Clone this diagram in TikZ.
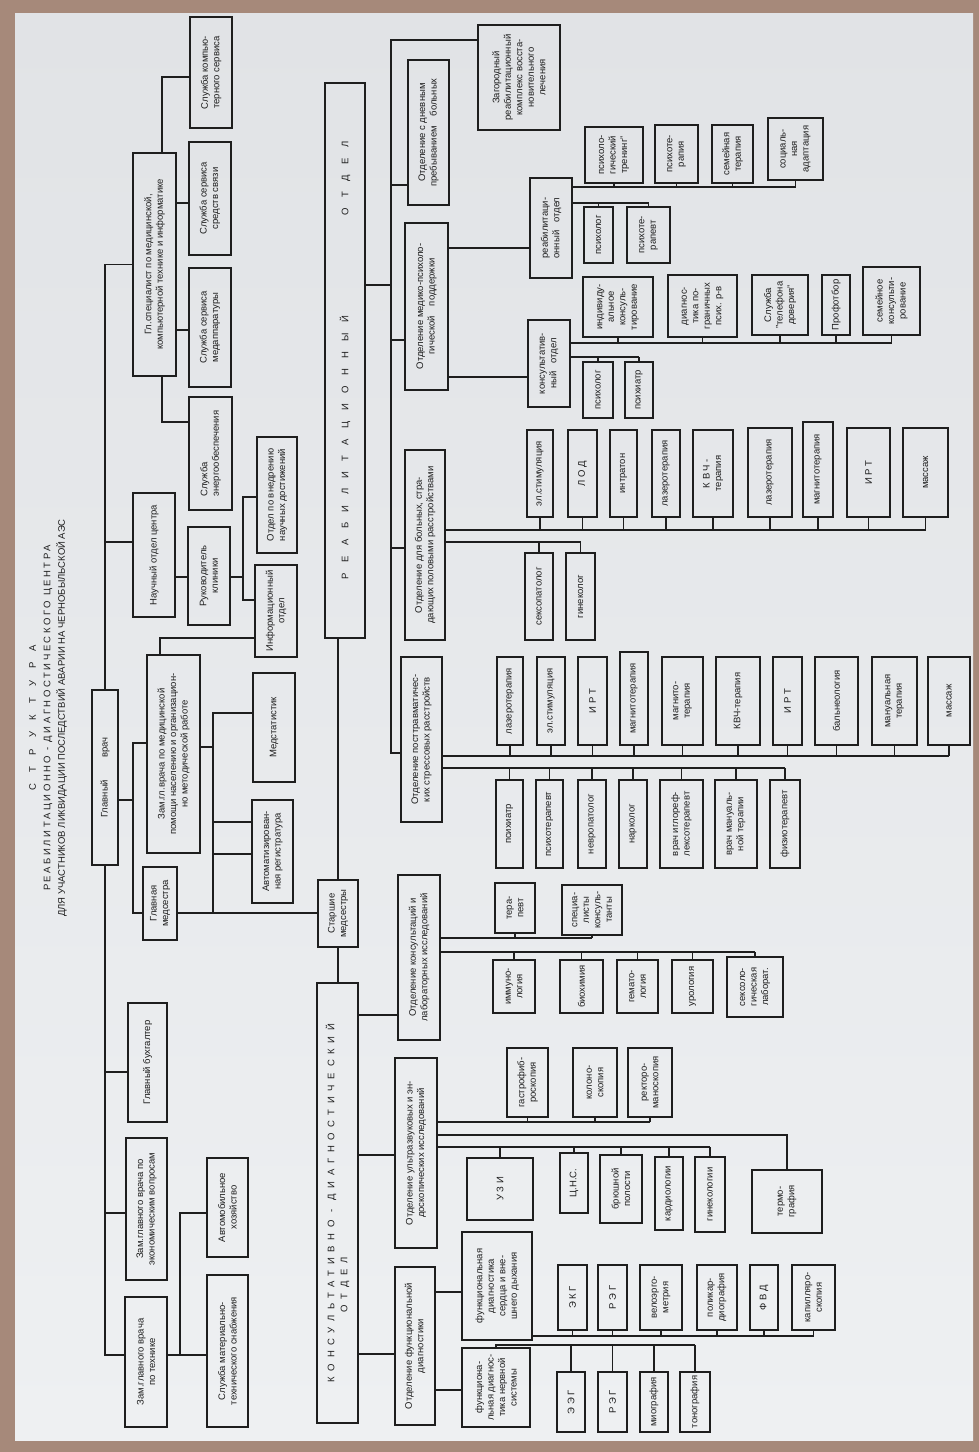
\documentclass[tikz,border=0pt]{standalone}
\usepackage{fontspec}
\setmainfont{Liberation Sans}
\definecolor{frame}{HTML}{A6897A}
\definecolor{pagetop}{HTML}{E1E3E6}
\definecolor{pagebot}{HTML}{EEF0F2}
\definecolor{ink}{HTML}{1E1E1E}

\begin{document}
\begin{tikzpicture}[x=1pt, y=-1pt, line width=1.1pt, color=ink,
block/.style = {rectangle, draw=ink, line width=1.2pt, rotate=90, align=center,
  inner sep=1pt, font=\fontsize{9.5}{11.5}\selectfont},
sz/.style 2 args = {minimum height=#1pt, minimum width=#2pt}]

\useasboundingbox (0,0) rectangle (979,1452);
\fill[frame] (0,0) rectangle (979,1452);
\shade[top color=pagetop, bottom color=pagebot] (15,13) rectangle (973,1440);

% title (page is turned, text runs upwards)
\node[rotate=90, align=center, font=\fontsize{9.5}{14.5}\selectfont] at (48,718) (title)
  {{\addfontfeature{LetterSpace=120}СТРУКТУРА}\\
   {\addfontfeature{LetterSpace=27}РЕАБИЛИТАЦИОННО - ДИАГНОСТИЧЕСКОГО ЦЕНТРА}\\
   ДЛЯ УЧАСТНИКОВ ЛИКВИДАЦИИ ПОСЛЕДСТВИЙ АВАРИИ НА ЧЕРНОБЫЛЬСКОЙ АЭС};

% administration
\node[block, sz={26}{175}] at (105,777.5) (glav) {Главный\hspace{22pt}врач};
\node[block, sz={43}{223}] at (154.5,264.5) (spec) {Гл.специалист по медицинской,\\компьютерной технике и информатике};
\node[block, sz={42}{111}] at (211,72.5) (comp) {Служба компью-\\терного сервиса};
\node[block, sz={42}{113}] at (210,198.5) (svyaz) {Служба сервиса\\средств связи};
\node[block, sz={42}{119}] at (210,327.5) (medapp) {Служба сервиса\\медаппаратуры};
\node[block, sz={43}{113}, align=left] at (210.5,453.5) (energo) {Служба\\энергообеспечения};
\node[block, sz={42}{124}] at (154,555) (nauch) {Научный отдел центра};
\node[block, sz={42}{98}] at (209,576) (ruk) {Руководитель\\клиники};
\node[block, sz={40}{116}] at (277,495) (vnedr) {Отдел по внедрению\\научных достижений};
\node[block, sz={42}{92}] at (276,611) (inform) {Информационный\\отдел};
\node[block, sz={53}{198}] at (173.5,754) (zammed) {Зам.гл.врача по медицинской\\помощи населению и организацион-\\но методической работе};
\node[block, sz={34}{73}] at (160,903.5) (glmed) {Главная\\медсестра};
\node[block, sz={42}{109}] at (274,727.5) (medstat) {Медстатистик};
\node[block, sz={41}{103}] at (272.5,851.5) (avtoreg) {Автоматизирован-\\ная регистратура};
\node[block, sz={40}{67}] at (338,913.5) (starsh) {Старшие\\медсестры};
\node[block, sz={39}{119}] at (147.5,1062.5) (buh) {Главный бухгалтер};
\node[block, sz={41}{142}] at (146.5,1209) (zamek) {Зам.главного врача по\\экономическим вопросам};
\node[block, sz={42}{130}] at (146,1362) (tekh) {Зам.главного врача\\по технике};
\node[block, sz={41}{99}] at (227.5,1207.5) (avto) {Автомобильное\\хозяйство};
\node[block, sz={41}{152}] at (227.5,1351) (snab) {Служба материально-\\технического снабжения};

% spine of the chief
\draw (spec) -| (glav);
\coordinate (s1) at (105,542);
\coordinate (s2) at (105,1355);
\coordinate (s3) at (105,1072);
\coordinate (s4) at (105,1213);
\draw (s1) -- (s1 -| nauch.north);
\draw (glav) -- (glav |- s2) -- (s2 -| tekh.north);
\draw (s3) -- (s3 -| buh.north);
\draw (s4) -- (s4 -| zamek.north);

\coordinate (g1) at (162,77);
\coordinate (g2) at (162,422);
\coordinate (g3) at (0,203);
\coordinate (g4) at (0,330);
\draw (g1 |- spec.east) -- (g1) -- (g1 -| comp.north);
\draw (g2 |- spec.west) -- (g2) -- (g2 -| energo.north);
\draw (g3 -| spec.south) -- (g3 -| svyaz.north);
\draw (g4 -| spec.south) -- (g4 -| medapp.north);

\coordinate (r1) at (243,577);
\coordinate (r3) at (243,497);
\coordinate (r4) at (243,600);
\draw (r1 -| nauch.south) -- (r1 -| ruk.north);
\draw (r1 -| ruk.south) -- (r1);
\draw (r3 -| vnedr.north) -- (r3) -- (r4) -- (r4 -| inform.north);

\coordinate (z1) at (133,800);
\coordinate (z2) at (133,743);
\coordinate (z3) at (133,913);
\coordinate (z4) at (160,638);
\draw (z1 -| glav.south) -- (z1);
\draw (z2 -| zammed.north) -- (z2) -- (z3) -- (z3 -| glmed.north);
\draw (z4 |- zammed.east) -- (z4) -- (z4 -| inform.north);

\coordinate (m1) at (213,747);
\coordinate (m2) at (213,713);
\coordinate (m3) at (213,822);
\coordinate (m4) at (213,854);
\draw (m1 -| zammed.south) -- (m1);
\draw (m2 -| medstat.north) -- (m2) -- (z3 -| m2);
\draw (m3) -- (m3 -| avtoreg.north);
\draw (m4) -- (m4 -| avtoreg.north);
\draw (z3 -| glmed.south) -- (z3 -| starsh.north);

\coordinate (t1) at (180,1355);
\coordinate (t2) at (180,1213);
\draw (s2 -| tekh.south) -- (s2 -| snab.north);
\draw (t1) -- (t2) -- (t2 -| avto.north);

% rehabilitation department
\node[block, sz={40}{555}, font=\fontsize{9.5}{11.5}\selectfont\addfontfeature{LetterSpace=110}] at (345,360.5) (reab)
  {РЕАБИЛИТАЦИОННЫЙ\hspace{100pt}ОТДЕЛ};
\node[block, sz={82}{105}] at (519,77.5) (zagor) {Загородный\\реабилитационный\\комплекс восста-\\новительного\\лечения};
\node[block, sz={41}{145}] at (428.5,132.5) (dnev) {Отделение с дневным\\пребыванием\hspace{10pt}больных};
\node[block, sz={43}{167}] at (426.5,306.5) (medpsy) {Отделение медико-психоло-\\гической\hspace{10pt}поддержки};
\node[block, sz={40}{190}] at (425,545) (polov) {Отделение для больных, стра-\\дающих половыми расстройствами};
\node[block, sz={41}{165}] at (421.5,739.5) (ptsr) {Отделение посттравматичес-\\ких стрессовых расстройств};

\draw (starsh) -- (starsh |- reab.west);
\coordinate (q0) at (391,40);
\coordinate (q1) at (391,285);
\coordinate (q2) at (391,185);
\coordinate (q3) at (391,340);
\coordinate (q4) at (391,548);
\coordinate (q9) at (391,753);
\draw (q0 -| zagor.north) -- (q0) -- (q9) -- (q9 -| ptsr.north);
\draw (q1 -| reab.south) -- (q1);
\draw (q2) -- (q2 -| dnev.north);
\draw (q3) -- (q3 -| medpsy.north);
\draw (q4) -- (q4 -| polov.north);

% medico-psychological support
\node[block, sz={42}{100}] at (551,228) (reabo) {реабилитаци-\\онный\hspace{8pt}отдел};
\node[block, sz={42}{87}] at (549,363.5) (konso) {консультатив-\\ный\hspace{8pt}отдел};
\node[block, sz={58}{56}] at (614,155) (ptren) {психоло-\\гический\\тренинг"};
\node[block, sz={43}{58}] at (676.5,154) (pter) {психоте-\\рапия};
\node[block, sz={41}{58}] at (732.5,154) (semter) {семейная\\терапия};
\node[block, sz={55}{62}] at (795.5,149) (socad) {социаль-\\ная\\адаптация};
\node[block, sz={29}{56}] at (598.5,235) (psy1) {психолог};
\node[block, sz={43}{56}] at (648.5,235) (pterap) {психоте-\\рапевт};
\node[block, sz={70}{60}] at (618,307) (indiv) {индивиду-\\альное\\консуль-\\тирование};
\node[block, sz={69}{62}] at (702.5,306) (diagp) {диагнос-\\тика по-\\граничных\\псих. р-в};
\node[block, sz={56}{60}] at (780,305) (telef) {Служба\\"телефона\\доверия"};
\node[block, sz={28}{60}] at (836,305) (proftb) {Профотбор};
\node[block, sz={57}{68}] at (891.5,301) (semkon) {семейное\\консульти-\\рование};
\node[block, sz={30}{56}] at (598,390) (psy2) {психолог};
\node[block, sz={28}{56}] at (639,390) (psyh) {психиатр};

\coordinate (p1) at (0,248);
\coordinate (p2) at (0,377);
\coordinate (p3) at (0,187);
\coordinate (p4) at (0,203);
\coordinate (p5) at (0,343);
\coordinate (p6) at (0,357);
\draw (p1 -| medpsy.south) -- (p1 -| reabo.north);
\draw (p2 -| medpsy.south) -- (p2 -| konso.north);
\draw (p3 -| reabo.south) -- (p3 -| socad);
\draw (ptren) -- (ptren |- p3) (pter) -- (pter |- p3) (semter) -- (semter |- p3) (socad) -- (socad |- p3);
\draw (p4 -| reabo.south) -- (p4 -| pterap);
\draw (psy1) -- (psy1 |- p4) (pterap) -- (pterap |- p4);
\draw (p5 -| konso.south) -- (p5 -| semkon);
\draw (indiv) -- (indiv |- p5) (diagp) -- (diagp |- p5) (telef) -- (telef |- p5)
  (proftb) -- (proftb |- p5) (semkon) -- (semkon |- p5);
\draw (p6 -| konso.south) -- (p6 -| psyh);
\draw (psy2) -- (psy2 |- p6) (psyh) -- (psyh |- p6);

% sexual disorders
\node[block, sz={26}{87}] at (540,473.5) (elst1) {эл.стимуляция};
\node[block, sz={29}{87}] at (582.5,473.5) (lod) {Л О Д};
\node[block, sz={27}{87}] at (623.5,473.5) (intr) {интратон};
\node[block, sz={28}{87}] at (666,473.5) (laz1) {лазеротерапия};
\node[block, sz={40}{87}] at (713,473.5) (kvch1) {К В Ч -\\терапия};
\node[block, sz={44}{89}] at (770,472.5) (laz2) {лазеротерапия};
\node[block, sz={30}{95}] at (818,469.5) (magn1) {магнитотерапия};
\node[block, sz={43}{89}] at (868.5,472.5) (irt1) {И Р Т};
\node[block, sz={45}{89}] at (925.5,472.5) (mass1) {массаж};
\node[block, sz={28}{87}] at (539,596.5) (sexp) {сексопатолог};
\node[block, sz={29}{87}] at (580.5,596.5) (ginek) {гинеколог};

\coordinate (h1) at (0,530);
\coordinate (h2) at (0,542);
\draw (h1 -| polov.south) -- (h1 -| mass1);
\draw (elst1) -- (elst1 |- h1) (lod) -- (lod |- h1) (intr) -- (intr |- h1) (laz1) -- (laz1 |- h1)
  (kvch1) -- (kvch1 |- h1) (laz2) -- (laz2 |- h1) (magn1) -- (magn1 |- h1) (irt1) -- (irt1 |- h1)
  (mass1) -- (mass1 |- h1);
\draw (h2 -| polov.south) -- (h2 -| ginek);
\draw (sexp) -- (sexp |- h2) (ginek) -- (ginek |- h2);

% post-traumatic stress disorders
\node[block, sz={26}{88}] at (510,701) (laz3) {лазеротерапия};
\node[block, sz={28}{88}] at (551,701) (elst2) {эл.стимуляция};
\node[block, sz={29}{88}] at (592.5,701) (irt2) {И Р Т};
\node[block, sz={28}{93}] at (634,698.5) (magn2) {магнитотерапия};
\node[block, sz={41}{88}] at (682.5,701) (magn3) {магнито-\\терапия};
\node[block, sz={44}{88}] at (738,701) (kvch2) {КВЧ-терапия};
\node[block, sz={29}{88}] at (787.5,701) (irt3) {И Р Т};
\node[block, sz={43}{88}] at (836.5,701) (baln) {бальнеология};
\node[block, sz={45}{88}] at (894.5,701) (manu) {мануальная\\терапия};
\node[block, sz={42}{88}] at (949,701) (mass2) {массаж};
\node[block, sz={27}{88}] at (509.5,824) (psyh2) {психиатр};
\node[block, sz={27}{88}] at (549.5,824) (pster) {психотерапевт};
\node[block, sz={28}{88}] at (592,824) (nevr) {невропатолог};
\node[block, sz={28}{88}] at (633,824) (nark) {нарколог};
\node[block, sz={43}{88}] at (681.5,824) (igl) {врач иглореф-\\лексотерапевт};
\node[block, sz={42}{88}] at (736,824) (manv) {врач мануаль-\\ной терапии};
\node[block, sz={30}{88}] at (785,824) (fizio) {физиотерапевт};

\coordinate (w1) at (0,756);
\coordinate (w2) at (0,768);
\draw (w1 -| ptsr.south) -- (w1 -| mass2);
\draw (laz3) -- (laz3 |- w1) (elst2) -- (elst2 |- w1) (irt2) -- (irt2 |- w1) (magn2) -- (magn2 |- w1)
  (magn3) -- (magn3 |- w1) (kvch2) -- (kvch2 |- w1) (irt3) -- (irt3 |- w1) (baln) -- (baln |- w1)
  (manu) -- (manu |- w1) (mass2) -- (mass2 |- w1);
\draw (w2 -| ptsr.south) -- (w2 -| fizio);
\draw (psyh2) -- (psyh2 |- w2) (pster) -- (pster |- w2) (nevr) -- (nevr |- w2) (nark) -- (nark |- w2)
  (igl) -- (igl |- w2) (manv) -- (manv |- w2) (fizio) -- (fizio |- w2);

% consultative-diagnostic department
\node[block, sz={41}{440}, align=left, font=\fontsize{9.5}{13}\selectfont\addfontfeature{LetterSpace=60}] at (337.5,1203) (kdo)
  {КОНСУЛЬТАТИВНО - ДИАГНОСТИЧЕСКИЙ\\\hspace*{70pt}ОТДЕЛ};
\draw (starsh) -- (starsh |- kdo.east);

\node[block, sz={42}{165}] at (419,957.5) (konsl) {Отделение консультаций и\\лабораторных исследований};
\node[block, sz={42}{190}] at (416,1153) (uzio) {Отделение ультразвуковых и эн-\\доскопических исследований};
\node[block, sz={40}{158}] at (415,1346) (funk) {Отделение функциональной\\диагностики};

\coordinate (k1) at (0,1015);
\coordinate (k2) at (0,1155);
\coordinate (k3) at (0,1354);
\draw (k1 -| kdo.south) -- (k1 -| konsl.north);
\draw (k2 -| kdo.south) -- (k2 -| uzio.north);
\draw (k3 -| kdo.south) -- (k3 -| funk.north);

% consultations and laboratory
\node[block, sz={40}{50}] at (515,908) (terap) {тера-\\певт};
\node[block, sz={60}{50}] at (592,910) (spec2) {специа-\\листы\\консуль-\\танты};
\node[block, sz={42}{53}] at (514,986.5) (imm) {иммуно-\\логия};
\node[block, sz={43}{53}] at (581.5,986.5) (bioh) {биохимия};
\node[block, sz={41}{53}] at (637.5,986.5) (gemat) {гемато-\\логия};
\node[block, sz={41}{53}] at (692.5,986.5) (urol) {урология};
\node[block, sz={56}{60}] at (755,987) (sexlab) {сексоло-\\гическая\\лаборат.};

\coordinate (c1) at (0,938);
\coordinate (c2) at (0,952);
\draw (c1 -| konsl.south) -- (c1 -| spec2);
\draw (terap) -- (terap |- c1) (spec2) -- (spec2 |- c1);
\draw (c2 -| konsl.south) -- (c2 -| sexlab);
\draw (imm) -- (imm |- c2) (bioh) -- (bioh |- c2) (gemat) -- (gemat |- c2) (urol) -- (urol |- c2)
  (sexlab) -- (sexlab |- c2);

% ultrasound and endoscopy
\node[block, sz={41}{69}] at (527.5,1082.5) (gastr) {гастрофиб-\\роскопия};
\node[block, sz={44}{69}] at (595,1082.5) (kolon) {колоно-\\скопия};
\node[block, sz={44}{69}] at (650,1082.5) (rekt) {ректоро-\\маноскопия};
\node[block, sz={66}{62}] at (500,1189) (uzi) {У З И};
\node[block, sz={28}{60}] at (574,1183) (cns) {Ц.Н.С.};
\node[block, sz={42}{68}] at (621,1189) (bryush) {брюшной\\полости};
\node[block, sz={28}{73}] at (669,1193.5) (kard) {кардиологии};
\node[block, sz={30}{75}] at (710,1194.5) (gin2) {гинекологии};
\node[block, sz={70}{63}] at (787,1201.5) (termo) {термо-\\графия};

\coordinate (u1) at (0,1122);
\coordinate (u2) at (0,1135);
\coordinate (u3) at (0,1147);
\draw (u1 -| uzio.south) -- (u1 -| rekt);
\draw (gastr) -- (gastr |- u1) (kolon) -- (kolon |- u1) (rekt) -- (rekt |- u1);
\draw (u2 -| uzio.south) -| (termo);
\draw (u3 -| uzio.south) -- (u3 -| gin2);
\draw (uzi) -- (uzi |- u3) (cns) -- (cns |- u3) (bryush) -- (bryush |- u3) (kard) -- (kard |- u3)
  (gin2) -- (gin2 |- u3);

% functional diagnostics
\node[block, sz={70}{108}] at (497,1286) (fserd) {функциональная\\диагностика\\сердца и вне-\\шнего дыхания};
\node[block, sz={68}{79}] at (496,1387.5) (fnerv) {функциона-\\льная диагнос-\\тика нервной\\системы};
\node[block, sz={29}{65}] at (572.5,1297.5) (ekg) {Э К Г};
\node[block, sz={29}{65}] at (612.5,1297.5) (reg1) {Р Э Г};
\node[block, sz={42}{65}] at (661,1297.5) (velo) {велоэрго-\\метрия};
\node[block, sz={40}{65}] at (717,1297.5) (polik) {поликар-\\диография};
\node[block, sz={28}{65}] at (764,1297.5) (fvd) {Ф В Д};
\node[block, sz={43}{65}] at (813.5,1297.5) (kapil) {капилляро-\\скопия};
\node[block, sz={28}{60}] at (571,1402) (eeg) {Э Э Г};
\node[block, sz={29}{60}] at (612.5,1402) (reg2) {Р Э Г};
\node[block, sz={28}{60}] at (654,1402) (miog) {миография};
\node[block, sz={30}{60}] at (695,1402) (tonog) {тонография};

\coordinate (f1) at (0,1292);
\coordinate (f2) at (0,1390);
\coordinate (f3) at (0,1336);
\coordinate (f4) at (0,1345);
\draw (f1 -| funk.south) -- (f1 -| fserd.north);
\draw (f2 -| funk.south) -- (f2 -| fnerv.north);
\draw (f3 -| fserd.south) -- (f3 -| kapil);
\draw (ekg) -- (ekg |- f3) (reg1) -- (reg1 |- f3) (velo) -- (velo |- f3) (polik) -- (polik |- f3)
  (fvd) -- (fvd |- f3) (kapil) -- (kapil |- f3);
\draw (fnerv) -- (fnerv |- f4) -- (f4 -| tonog);
\draw (eeg) -- (eeg |- f4) (reg2) -- (reg2 |- f4) (miog) -- (miog |- f4) (tonog) -- (tonog |- f4);
\end{tikzpicture}
\end{document}
